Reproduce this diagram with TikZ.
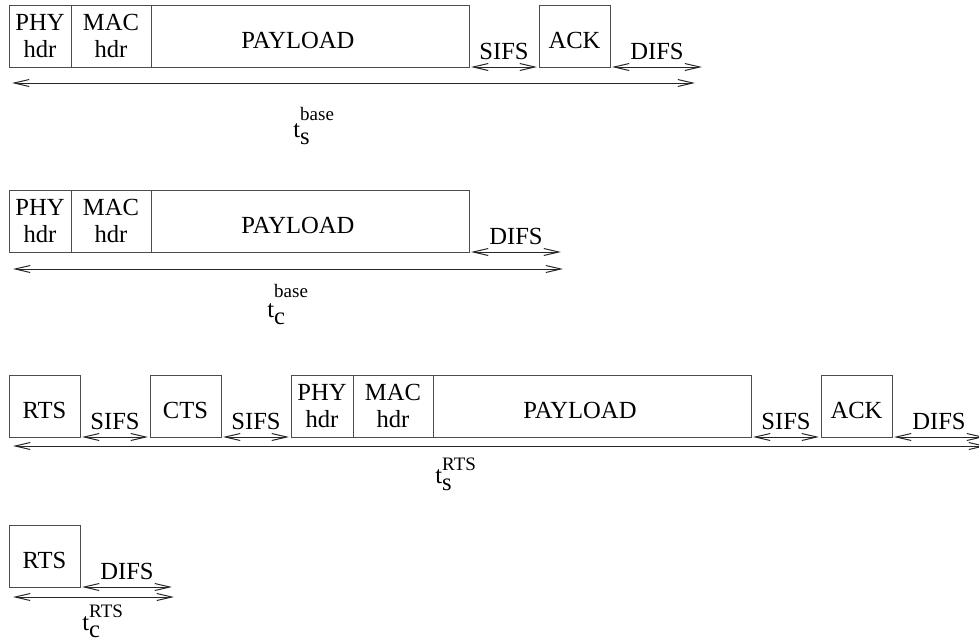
\documentclass[tikz,border=0pt]{standalone}
\usepackage{fontspec}
\setmainfont{Liberation Serif}
\usetikzlibrary{positioning,arrows.meta}
\newcommand{\tlab}[3]{t\rlap{\raisebox{-3.5pt}{#1}}\raisebox{#3}{\fontsize{9.5}{10}\selectfont #2}}
\begin{document}
\begin{tikzpicture}[x=0.5pt,y=-0.5pt,
    font=\fontsize{12.3}{13.5}\selectfont,
    frame/.style={draw=black!70, line width=0.5pt, inner sep=0pt, outer sep=0pt, minimum height=31pt},
    field/.style={frame, text height=12.8pt, text depth=0pt},
    phybox/.style={frame, align=center, minimum width=31pt},
    macbox/.style={frame, align=center, minimum width=40pt},
    paybox/.style={field, minimum width=159pt},
    ctrlbox/.style={field, minimum width=35.5pt},
    tip/.tip={Straight Barb[length=7.5pt,width=3.5pt]},
    gap/.style={draw=black!85, line width=0.5pt, tip-tip, shorten <=1pt, shorten >=1pt},
    span/.style={draw=black!85, line width=0.5pt, tip-tip},
    tlabel/.style={inner sep=0pt, anchor=base west}]
    % Khung ảnh
    \useasboundingbox (0,0) rectangle (979,643);

    % Truyền thành công, cơ chế cơ bản
    \node[phybox, anchor=north west] (phy1) at (9,5) {PHY\\hdr};
    \node[macbox, right=0pt of phy1] (mac1) {MAC\\hdr};
    \node[paybox, right=0pt of mac1] (pay1) {PAYLOAD\kern12pt};
    \node[ctrlbox, right=35pt of pay1] (ack1) {ACK};
    \coordinate (difs1end) at ([xshift=47pt]ack1.south east);
    \draw[gap] (pay1.south east) -- (ack1.south west) node[midway, above] (sifs1) {SIFS};
    \draw[gap] (ack1.south east) -- (difs1end) node[midway, above] (difs1) {DIFS};
    \coordinate (s1l) at (12,83);
    \coordinate (s1r) at (695,83);
    \draw[span] (s1l) -- (s1r);
    \node[tlabel] (ts1) at (293,137) {\tlab{s}{base}{8.5pt}};

    % Xung đột, cơ chế cơ bản
    \node[phybox, anchor=north west] (phy2) at (9,190) {PHY\\hdr};
    \node[macbox, right=0pt of phy2] (mac2) {MAC\\hdr};
    \node[paybox, right=0pt of mac2] (pay2) {PAYLOAD\kern12pt};
    \coordinate (difs2end) at ([xshift=47pt]pay2.south east);
    \draw[gap] (pay2.south east) -- (difs2end) node[midway, above] (difs2) {DIFS};
    \coordinate (s2l) at (13,269);
    \coordinate (s2r) at (563,269);
    \draw[span] (s2l) -- (s2r);
    \node[tlabel] (tc2) at (267,317) {\tlab{c}{base}{10pt}};

    % Truyền thành công, RTS/CTS
    \node[ctrlbox, anchor=north west] (rts3) at (9,375) {RTS};
    \node[ctrlbox, right=35pt of rts3] (cts3) {CTS};
    \node[phybox, right=35pt of cts3] (phy3) {PHY\\hdr};
    \node[macbox, right=0pt of phy3] (mac3) {MAC\\hdr};
    \node[paybox, right=0pt of mac3] (pay3) {PAYLOAD\kern12pt};
    \node[ctrlbox, right=35pt of pay3] (ack3) {ACK};
    \coordinate (difs3end) at ([xshift=47pt]ack3.south east);
    \draw[gap] (rts3.south east) -- (cts3.south west) node[midway, above] (sifs3a) {SIFS};
    \draw[gap] (cts3.south east) -- (phy3.south west) node[midway, above] (sifs3b) {SIFS};
    \draw[gap] (pay3.south east) -- (ack3.south west) node[midway, above] (sifs3c) {SIFS};
    \draw[gap] (ack3.south east) -- (difs3end) node[midway, above] (difs3) {DIFS};
    \coordinate (s3l) at (13,446);
    \coordinate (s3r) at (986,446);
    \draw[span] (s3l) -- (s3r);
    \node[tlabel] (ts3) at (435,483) {\tlab{s}{RTS}{6.5pt}};

    % Xung đột, RTS/CTS
    \node[ctrlbox, anchor=north west] (rts4) at (9,525) {RTS};
    \coordinate (difs4end) at ([xshift=47pt]rts4.south east);
    \draw[gap] (rts4.south east) -- (difs4end) node[midway, above] (difs4) {DIFS};
    \coordinate (s4l) at (13,597);
    \coordinate (s4r) at (174,597);
    \draw[span] (s4l) -- (s4r);
    \node[tlabel] (tc4) at (82,630) {\tlab{c}{RTS}{6.5pt}};
\end{tikzpicture}
\end{document}
